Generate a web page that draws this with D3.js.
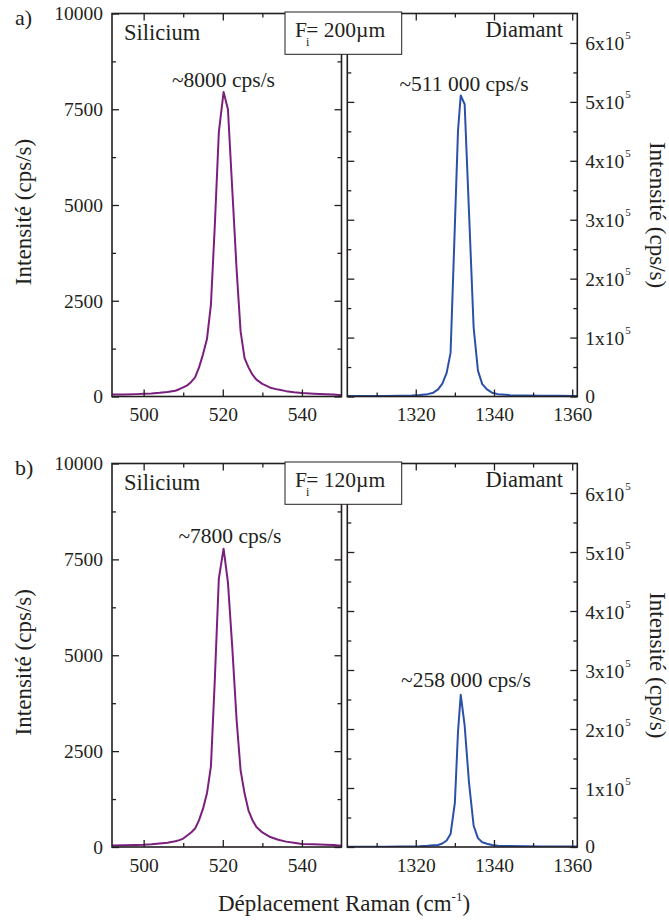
<!DOCTYPE html>
<html><head><meta charset="utf-8">
<script src="https://cdn.jsdelivr.net/npm/d3@7"></script>
</head><body style="margin:0;background:#fff"><svg id="c" width="669" height="922"></svg>
<script>
// ---- data ----
const siX = [492,495,498,500,502,504,506,508,509,510,511,512,513,514,515,516,517,518,519,520.2,521.3,522.4,523.5,524.5,525.5,526.5,527.5,528.5,530,532,534,536,538,540,543,546,548,550];
const siTopY = [50,55,62,70,80,95,115,150,190,240,290,380,500,760,1100,1500,2400,4500,6900,7950,7500,5400,3300,1700,1000,760,570,440,330,230,180,140,110,90,75,60,50,35];
const siBotY = [40,45,55,60,70,90,110,150,180,220,300,380,480,700,1000,1400,2100,4400,7000,7780,6900,5200,3300,2000,1400,950,700,520,380,260,190,140,110,80,70,60,50,30];
const diaX = [1302.5,1308,1312,1316,1319,1321,1323,1324.5,1325.7,1326.8,1327.9,1328.9,1330.0,1330.8,1331.5,1332.5,1333.6,1334.8,1335.9,1337.0,1338.2,1339.5,1341,1344,1348,1352,1356,1361.3];
const diaTopY = [800,900,1000,1300,1700,2500,4000,6500,12000,22000,40000,74000,290000,451000,511000,496000,315000,117000,44000,21000,12000,6500,4000,2500,1800,1400,1100,900];
const diaBotY = [300,400,500,700,900,1300,2000,2800,3500,6000,11000,22000,75000,195000,258000,206000,110000,36000,15000,8000,5500,3500,2200,1500,1100,900,800,700];
const siTicks = [500,520,540];
const siMinor = [510,530];
const diaTicks = [1320,1340,1360];
const diaMinor = [1310,1330,1350];
const leftYTicks = [0,2500,5000,7500,10000];
const leftYMinor = [1250,3750,6250,8750];
const rightYTicks = [0,100000,200000,300000,400000,500000,600000];
const rightYMinor = [50000,150000,250000,350000,450000,550000];
const panelLabels = ["a)","b)"];
const fiLabels = ["200µm","120µm"];
const siPeakLabels = ["~8000 cps/s","~7800 cps/s"];
const diaPeakLabels = ["~511 000 cps/s","~258 000 cps/s"];
const siSeries = [siTopY, siBotY];
const diaSeries = [diaTopY, diaBotY];

// ---- layout ----
const FONT = "'Times New Roman'";
const INK = "#231f20";
const PURPLE = "#7b1f7f";
const BLUE = "#2b50a8";
const svg = d3.select("#c");
const rows = [{top:13.5,bottom:396.5},{top:463.5,bottom:847}];
const leftP = {x0:112, x1:341.5};
const rightP = {x0:347.3, x1:577.3};
const xs = d3.scaleLinear([492,550],[leftP.x0,leftP.x1]);
const xd = d3.scaleLinear([1302.5,1361.3],[rightP.x0,rightP.x1]);

function txt(sel, size){ return sel.append("text").style("font-family",FONT).style("font-size",size+"px").attr("fill",INK); }

function drawAxis(gen, tx, ty){
  const g = svg.append("g").attr("transform",`translate(${tx},${ty})`).call(gen);
  g.select(".domain").remove();
  g.attr("font-family",null).attr("font-size",null);
  g.selectAll("line").attr("stroke",INK).attr("stroke-width",1.3);
  g.selectAll("text").attr("fill",INK).style("font-family",FONT).style("font-size","19.5px");
  return g;
}
const none = () => "";

rows.forEach((r,i)=>{
  const ys = d3.scaleLinear([0,10000],[r.bottom,r.top]);
  const yd = d3.scaleLinear([0,650000],[r.bottom,r.top]);
  const dy = i*450;

  svg.append("clipPath").attr("id","cl"+i).append("rect")
    .attr("x",leftP.x0).attr("y",r.top).attr("width",leftP.x1-leftP.x0).attr("height",r.bottom-r.top);
  svg.append("clipPath").attr("id","cr"+i).append("rect")
    .attr("x",rightP.x0).attr("y",r.top).attr("width",rightP.x1-rightP.x0).attr("height",r.bottom-r.top);

  const ls = d3.line().x((d,k)=>xs(siX[k])).y(d=>ys(d));
  svg.append("path").datum(siSeries[i]).attr("clip-path",`url(#cl${i})`)
    .attr("d",ls).attr("fill","none").attr("stroke",PURPLE).attr("stroke-width",2).attr("stroke-linejoin","round");
  const ld = d3.line().x((d,k)=>xd(diaX[k])).y(d=>yd(d));
  svg.append("path").datum(diaSeries[i]).attr("clip-path",`url(#cr${i})`)
    .attr("d",ld).attr("fill","none").attr("stroke",BLUE).attr("stroke-width",2).attr("stroke-linejoin","round");

  // left panel axes
  drawAxis(d3.axisBottom(xs).tickValues(siTicks).tickSizeInner(-7).tickSizeOuter(0).tickPadding(11).tickFormat(d3.format("d")),0,r.bottom);
  drawAxis(d3.axisBottom(xs).tickValues(siMinor).tickSizeInner(-4).tickSizeOuter(0).tickFormat(none),0,r.bottom);
  drawAxis(d3.axisTop(xs).tickValues(siTicks).tickSizeInner(-7).tickSizeOuter(0).tickFormat(none),0,r.top);
  drawAxis(d3.axisTop(xs).tickValues(siMinor).tickSizeInner(-4).tickSizeOuter(0).tickFormat(none),0,r.top);
  drawAxis(d3.axisLeft(ys).tickValues(leftYTicks).tickSizeInner(-7).tickSizeOuter(0).tickPadding(9).tickFormat(d3.format("d")),leftP.x0,0);
  drawAxis(d3.axisLeft(ys).tickValues(leftYMinor).tickSizeInner(-4).tickSizeOuter(0).tickFormat(none),leftP.x0,0);
  drawAxis(d3.axisRight(ys).tickValues(leftYTicks).tickSizeInner(-7).tickSizeOuter(0).tickFormat(none),leftP.x1,0);
  drawAxis(d3.axisRight(ys).tickValues(leftYMinor).tickSizeInner(-4).tickSizeOuter(0).tickFormat(none),leftP.x1,0);

  // right panel axes
  drawAxis(d3.axisBottom(xd).tickValues(diaTicks).tickSizeInner(-7).tickSizeOuter(0).tickPadding(11).tickFormat(d3.format("d")),0,r.bottom);
  drawAxis(d3.axisBottom(xd).tickValues(diaMinor).tickSizeInner(-4).tickSizeOuter(0).tickFormat(none),0,r.bottom);
  drawAxis(d3.axisTop(xd).tickValues(diaTicks).tickSizeInner(-7).tickSizeOuter(0).tickFormat(none),0,r.top);
  drawAxis(d3.axisTop(xd).tickValues(diaMinor).tickSizeInner(-4).tickSizeOuter(0).tickFormat(none),0,r.top);
  drawAxis(d3.axisLeft(yd).tickValues(rightYTicks).tickSizeInner(-7).tickSizeOuter(0).tickFormat(none),rightP.x0,0);
  drawAxis(d3.axisLeft(yd).tickValues(rightYMinor).tickSizeInner(-4).tickSizeOuter(0).tickFormat(none),rightP.x0,0);
  drawAxis(d3.axisRight(yd).tickValues(rightYTicks).tickSizeInner(-7).tickSizeOuter(0).tickFormat(none),rightP.x1,0);
  drawAxis(d3.axisRight(yd).tickValues(rightYMinor).tickSizeInner(-4).tickSizeOuter(0).tickFormat(none),rightP.x1,0);

  // right tick labels with superscripts
  rightYTicks.forEach(v=>{
    const t = txt(svg,19.5).attr("x",rightP.x1+8).attr("y",yd(v)+(v===0?6:7.5));
    if(v===0){ t.text("0"); }
    else {
      t.append("tspan").text((v/100000)+"x10");
      t.append("tspan").attr("dy",-11).attr("dx",1).style("font-size","11px").text("5");
    }
  });

  // frames
  [leftP,rightP].forEach(p=>{
    svg.append("rect").attr("x",p.x0).attr("y",r.top).attr("width",p.x1-p.x0).attr("height",r.bottom-r.top)
      .attr("fill","none").attr("stroke",INK).attr("stroke-width",1.6);
  });

  // F_i box
  const bx0=285, bx1=401.7, by0=r.top-1.5, by1=r.top+40.8;
  svg.append("rect").attr("x",bx0).attr("y",by0).attr("width",bx1-bx0).attr("height",by1-by0)
    .attr("fill","#fff").attr("stroke",INK).attr("stroke-width",1);
  const ft = txt(svg,21.5).attr("x",295).attr("y",37+dy);
  ft.append("tspan").text("F");
  ft.append("tspan").attr("dx",-1).attr("dy",9).style("font-size","12px").text("i");
  ft.append("tspan").attr("dx",-3).attr("dy",-9).text("= "+fiLabels[i]);

  // panel names
  txt(svg,22.5).attr("x",124).attr("y",40+dy).text("Silicium");
  txt(svg,22.5).attr("x",563).attr("y",37+dy).attr("text-anchor","end").text("Diamant");
  txt(svg,22).attr("x",15).attr("y",25+dy).text(panelLabels[i]);

  // peak annotations
  txt(svg,21.5).attr("x",i===0?223.5:230).attr("y",i===0?87:543).attr("text-anchor","middle").text(siPeakLabels[i]);
  txt(svg,21.5).attr("x",i===0?464:466).attr("y",i===0?91:687).attr("text-anchor","middle").text(diaPeakLabels[i]);

  // y titles
  const cy = (r.top+r.bottom)/2;
  txt(svg,23).attr("transform",`translate(30.5,${cy+7}) rotate(-90)`).attr("text-anchor","middle").text("Intensité (cps/s)");
  txt(svg,23).attr("transform",`translate(649.5,${cy+10}) rotate(90)`).attr("text-anchor","middle").text("Intensité (cps/s)");
});

// x title
const xt = txt(svg,23).attr("x",344).attr("y",911).attr("text-anchor","middle");
xt.append("tspan").text("Déplacement Raman (cm");
xt.append("tspan").attr("dy",-10).style("font-size","13px").text("-1");
xt.append("tspan").attr("dy",10).text(")");
</script>
</body></html>
